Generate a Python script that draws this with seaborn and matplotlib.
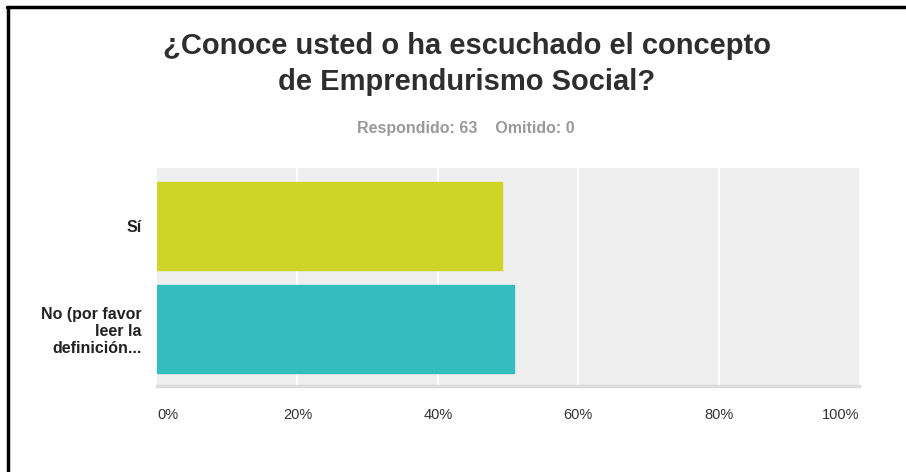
import matplotlib
matplotlib.use("Agg")
import matplotlib.pyplot as plt
import seaborn as sns
import pandas as pd
from matplotlib.lines import Line2D

categories = ["Sí", "No (por favor\nleer la\ndefinición..."]
percentages = [49.21, 50.79]
colors = ["#D0D427", "#33BDBF"]
tick_values = [0, 20, 40, 60, 80, 100]
tick_labels = ["0%", "20%", "40%", "60%", "80%", "100%"]
title = "¿Conoce usted o ha escuchado el concepto\nde Emprendurismo Social?"
subtitle = "Respondido: 63    Omitido: 0"

sns.set_theme(style="white")
plt.rcParams["font.family"] = ["Liberation Sans", "DejaVu Sans"]

df = pd.DataFrame({"cat": categories, "pct": percentages})

fig = plt.figure(figsize=(9.06, 4.72), dpi=100)
W, H = 906, 472
ax = fig.add_axes([157 / W, 1 - 386 / H, (859 - 157) / W, (386 - 168) / H])
ax.set_facecolor("#efefef")

sns.barplot(data=df, x="pct", y="cat", hue="cat", palette=colors, orient="h",
            width=0.855, ax=ax, legend=False, linewidth=1, saturation=1)
for p, c in zip(ax.patches, colors):
    p.set_edgecolor(c)
    p.set_zorder(3)

ax.set_xlim(0, 100)
ax.set_ylim(1.555, -0.563)
for v in tick_values[1:-1]:
    ax.axvline(v, color="white", lw=1.5, zorder=1)

for s in ["top", "right", "left"]:
    ax.spines[s].set_visible(False)
ax.spines["bottom"].set_color("#dcdcdc")
ax.spines["bottom"].set_linewidth(2.5)

ax.set_xticks(tick_values)
ax.set_xticklabels(tick_labels, fontsize=10.5, color="#333333")
labs = ax.get_xticklabels()
labs[0].set_ha("left")
labs[-1].set_ha("right")
ax.tick_params(axis="x", length=0, pad=16)
ax.tick_params(axis="y", length=0, pad=11)
ax.set_yticks(range(len(categories)))
ax.set_yticklabels(categories, fontsize=11.5, fontweight="bold", color="#222222",
                   ha="right", linespacing=1.15)
ax.set_xlabel("")
ax.set_ylabel("")

fig.text(467 / W, 1 - 64 / H, title, ha="center", va="center", fontsize=21,
         fontweight="bold", color="#2e2e2e", linespacing=1.4)
fig.text(466 / W, 1 - 128 / H, subtitle, ha="center", va="center", fontsize=11.5,
         fontweight="bold", color="#999999")

# frame lines (left and top)
fig.add_artist(Line2D([8 / W, 8 / W], [0, 1 - 7 / H], transform=fig.transFigure,
                      color="black", lw=2.5))
fig.add_artist(Line2D([7 / W, 905 / W], [1 - 7 / H, 1 - 7 / H], transform=fig.transFigure,
                      color="black", lw=2.5))

fig.savefig("out.png", dpi=100, facecolor="white")
